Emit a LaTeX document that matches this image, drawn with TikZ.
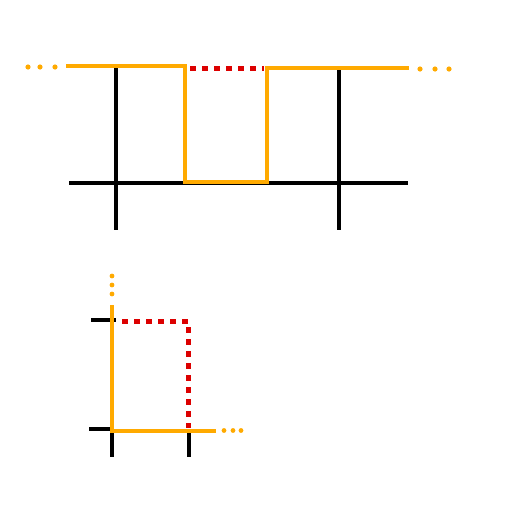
\documentclass[tikz,border=0pt]{standalone}
\usetikzlibrary{positioning}
\definecolor{wireorange}{RGB}{255,170,0}
\definecolor{gapred}{RGB}{220,0,0}
\tikzset{axis/.style={line width=4pt, black},
wire/.style={line width=4pt, wireorange, line join=miter},
gap/.style={line width=5pt, gapred, dash pattern=on 6pt off 6pt},
tail/.style={fill=wireorange}
}
\begin{document}
\begin{tikzpicture}[x=1pt,y=-1pt]
\useasboundingbox (0,0) rectangle (512,512);
% upper picture
\draw[axis] (69,183) -- (408,183);
\draw[axis] (116,68) -- (116,230);
\draw[axis] (339,66) -- (339,230);
\draw[wire] (66,66) -- (185,66) -- (185,182) -- (267,182) -- (267,68) -- (409,68);
\draw[gap] (190,68) -- (264,68);
\foreach \x in {28,40,55} \fill[tail] (\x,67) circle (2.6);
\foreach \x in {420,435,449} \fill[tail] (\x,69) circle (2.6);
% lower picture
\draw[axis] (91,320) -- (116,320);
\draw[axis] (89,429) -- (112,429);
\draw[axis] (112,430) -- (112,457);
\draw[axis] (189,430) -- (189,457);
\draw[gap] (122,321) -- (188,321) -- (188,428);
\draw[wire] (112,305) -- (112,430.5) -- (216,430.5);
\foreach \y in {276,285,294} \fill[tail] (112,\y) circle (2.4);
\foreach \x in {224,233,241} \fill[tail] (\x,430.5) circle (2.4);
\end{tikzpicture}
\end{document}
